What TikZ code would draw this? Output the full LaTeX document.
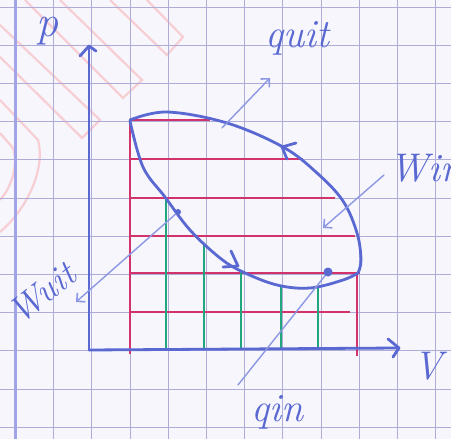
\documentclass[tikz,border=0pt]{standalone}
\usetikzlibrary{arrows.meta}
\definecolor{paper}{HTML}{F6F6FC}
\definecolor{gridc}{HTML}{ADADD8}
\definecolor{marginc}{HTML}{A3A3E8}
\definecolor{pen}{HTML}{5A68D2}
\definecolor{lead}{HTML}{8C98E4}
\definecolor{redp}{HTML}{D2336A}
\definecolor{greenp}{HTML}{22A67E}
\definecolor{pinkw}{HTML}{F6CED3}
\begin{document}
\begin{tikzpicture}[x=0.5pt,y=-0.5pt,
  gridline/.style={gridc, line width=0.5pt},
  penline/.style={pen, line width=1.4pt, line cap=round, line join=round},
  redline/.style={redp, line width=0.9pt},
  greenline/.style={greenp, line width=1.1pt},
  leader/.style={lead, line width=0.7pt, line cap=round},
  leadarrow/.style={leader, -{Straight Barb[length=3pt,width=6pt,line width=0.8pt]}},
  lbl/.style={pen, font=\fontsize{20}{20}\selectfont\itshape, inner sep=0pt},
  wm/.style={pinkw, line width=1.1pt, line join=miter}]
\fill[paper] (0,0) rectangle (451,439);
\useasboundingbox (0,0) rectangle (451,439);
% faint pink stripes in the paper
\draw[wm] (110,0) -- (167,55) -- (183,37) -- (147,0);
\draw[wm] (25,0) -- (123,98) -- (142,80) -- (60,0);
\draw[wm] (0,25) -- (100,120) -- (82,138) -- (0,57);
\draw[wm] (0,100) -- (38,140) .. controls (46,170) and (26,210) .. (0,232);
\draw[wm] (0,133) -- (13,148) .. controls (19,165) and (11,188) .. (0,200);
% grid paper
\foreach \k in {1,...,11} \draw[gridline] (15.5+38.2*\k,0) -- (15.5+38.2*\k,439);
\foreach \k in {0,...,11} \draw[gridline] (0,7+38.2*\k) -- (451,7+38.2*\k);
\draw[marginc, line width=1.5pt] (15.5,0) -- (15.5,439);
% red lines
\draw[redline] (130,120) -- (130,354);
\draw[redline] (130,120) -- (210,120);
\draw[redline] (130,159) -- (303,159);
\draw[redline] (130,198) -- (335,198);
\draw[redline] (130,236) -- (355,236);
\draw[redline] (130,273) -- (360,273);
\draw[redline] (130,312) -- (350,312);
\draw[redline] (357,273) -- (357,356);
% green lines
\draw[greenline] (166,199) -- (166,349);
\draw[greenline] (204,245) -- (204,349);
\draw[greenline] (241,271) -- (241,349);
\draw[greenline] (281,285) -- (281,349);
\draw[greenline] (318,287) -- (318,349);
% axes
\coordinate (O) at (89,350);
\coordinate (ptop) at (89,46);
\coordinate (vend) at (399,348);
\draw[penline] (O) -- (ptop);
\draw[penline] (80,56) -- (ptop) -- (96,51);
\draw[penline] (O) -- (vend);
\draw[penline] (388,339) -- (vend) -- (393,357);
% cycle
\coordinate (A) at (130,120);
\coordinate (B) at (358,273);
\draw[penline] plot[smooth, tension=0.6] coordinates {(130,121) (143,167) (165,197) (190,230) (220,258) (243,272) (277,285) (310,288) (343,280) (358,273)};
\draw[penline] plot[smooth, tension=0.6] coordinates {(130,120) (167,112) (227,123) (283,147) (317,173) (343,201) (357,233) (361,260) (358,273)};
\draw[penline] (231,251) -- (238,266) -- (223,267);
\draw[penline] (296,143) -- (282,147) -- (287,159);
% labels
\node[lbl, font=\fontsize{22}{22}\selectfont\itshape] (p) at (48,31) {p};
\node[lbl] (V) at (428,366) {V};
\node[lbl] (quit) at (297,38) {quit};
\node[lbl, anchor=west] (win) at (389,168) {Win};
\node[lbl, font=\fontsize{18}{18}\selectfont\itshape, rotate=38] (wuit) at (42,293) {Wuit};
\node[lbl] (qin) at (277,412) {qin};
% leaders
\coordinate (qoutS) at (222,128);
\coordinate (qoutE) at (270,78);
\draw[leadarrow] (qoutS) -- (qoutE);
\coordinate (winS) at (384,175);
\coordinate (winE) at (323,228);
\draw[leadarrow] (winS) -- (winE);
\coordinate (woutS) at (178,212);
\coordinate (woutE) at (76,302);
\draw[leadarrow] (woutS) -- (woutE);
\fill[pen] (woutS) circle (3);
\coordinate (qinS) at (238,385);
\coordinate (qinE) at (328,272);
\draw[leader] (qinS) -- (qinE);
\fill[pen] (qinE) circle (4.5);
\end{tikzpicture}
\end{document}
